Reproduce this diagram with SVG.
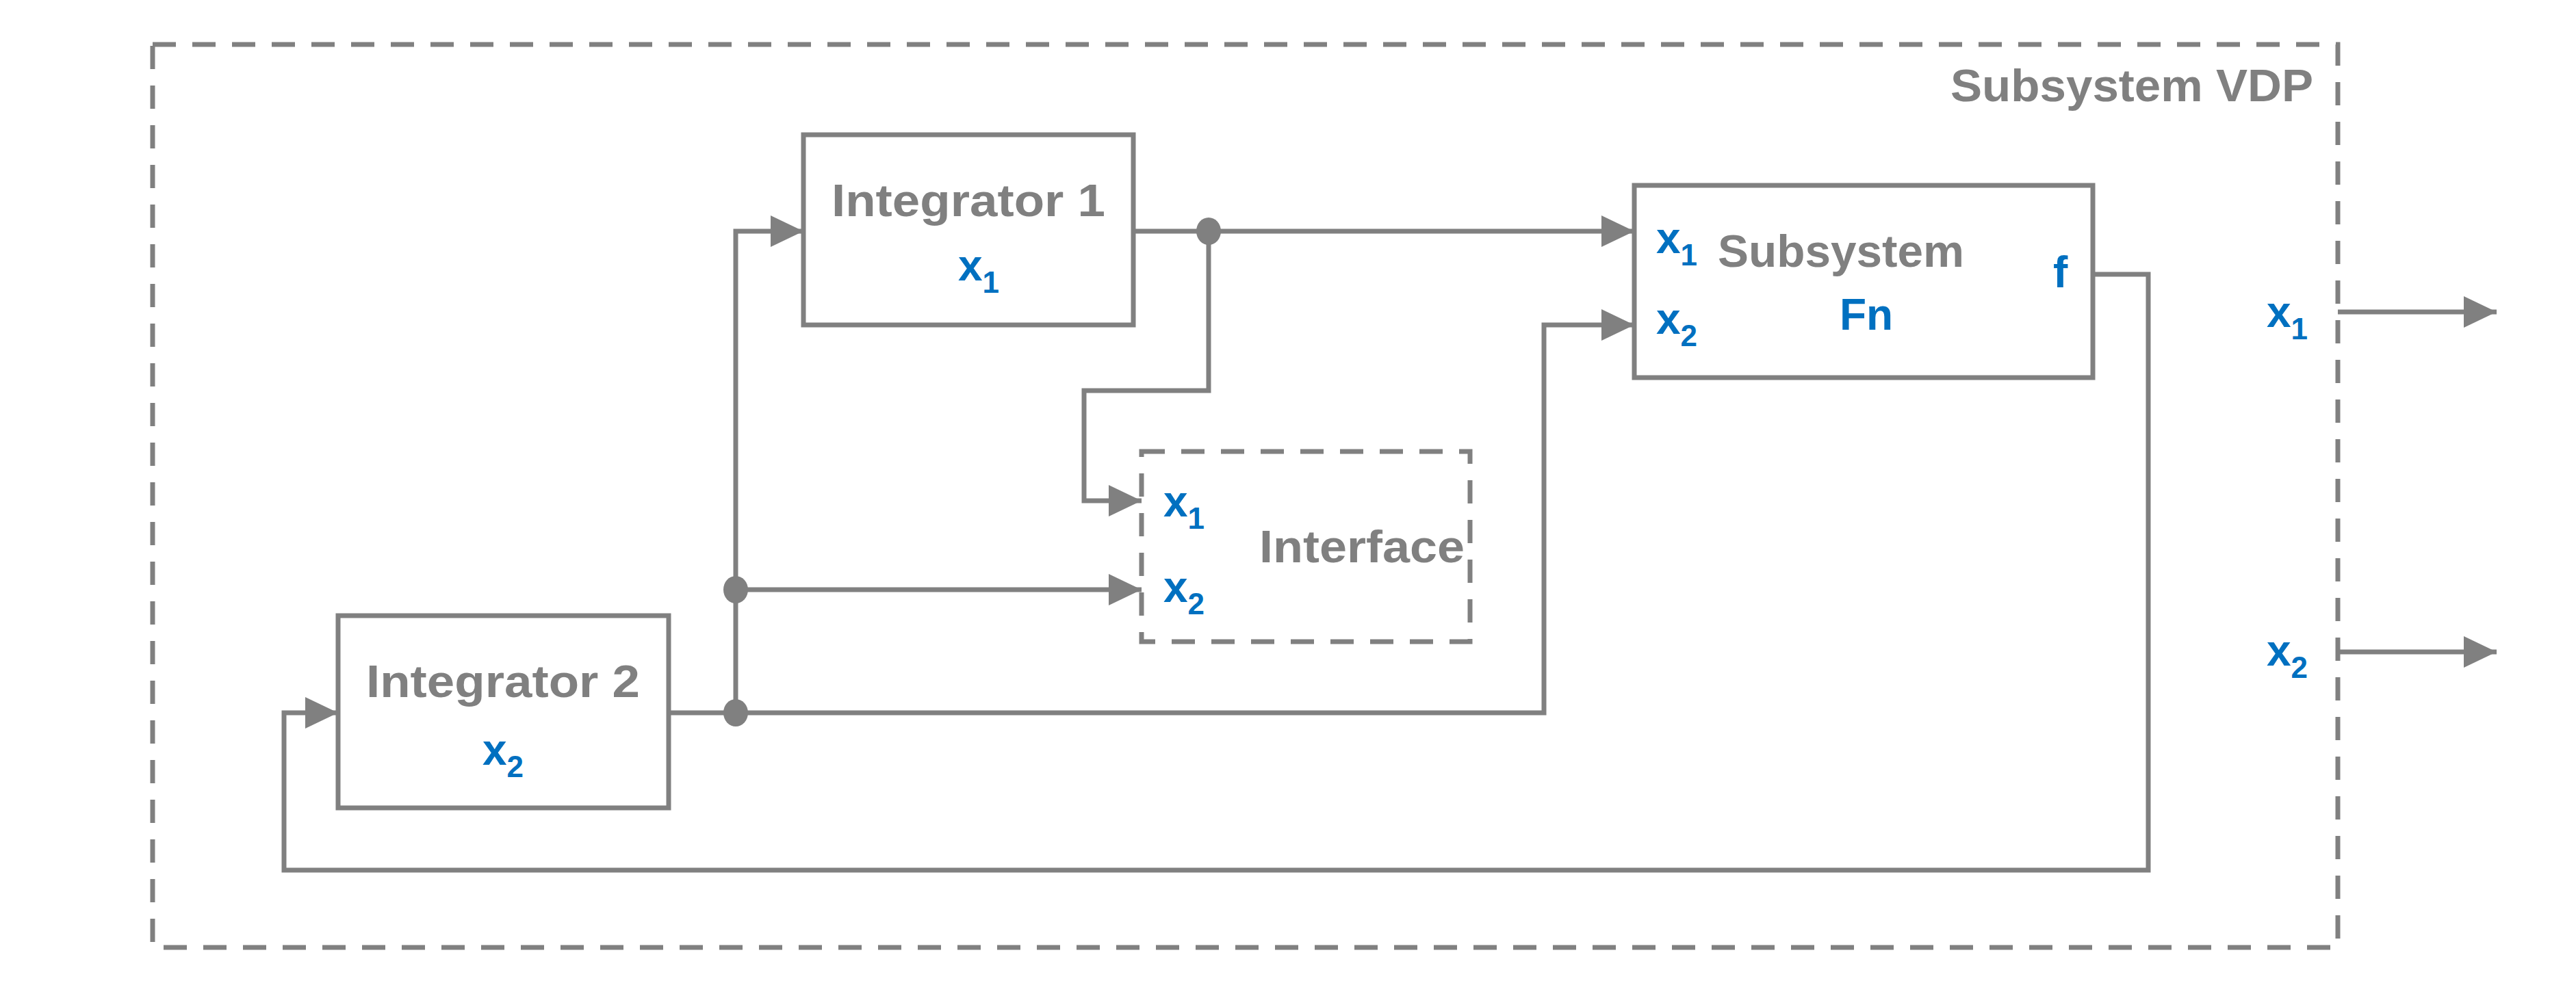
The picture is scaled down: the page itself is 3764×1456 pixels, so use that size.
<svg xmlns="http://www.w3.org/2000/svg" width="3764" height="1456" viewBox="0 0 3764 1456">
<style>
.box{fill:none;stroke:#808080;stroke-width:7}
.dash{fill:none;stroke:#808080;stroke-width:7;stroke-dasharray:34 24}
.ln{fill:none;stroke:#808080;stroke-width:7}
.t{font-family:"Liberation Sans",Arial,sans-serif;font-weight:bold;fill:#808080;font-size:66px}
.v{font-family:"Liberation Sans",Arial,sans-serif;font-weight:bold;fill:#0070C0;font-size:64px}
.s{font-size:44px}
</style>
<defs>
<marker id="ah" markerWidth="48" markerHeight="46" refX="48" refY="23" orient="auto" markerUnits="userSpaceOnUse">
<path d="M0,0 L48,23 L0,46 Z" fill="#808080"/>
</marker>
</defs>
<rect width="3764" height="1456" fill="#fff"/>
<g id="vdp">
<rect class="dash" x="223" y="65" width="3193" height="1320"/>
<text class="t" x="3380" y="148" text-anchor="end" textLength="530" lengthAdjust="spacingAndGlyphs">Subsystem VDP</text>
</g>
<g id="int1">
<rect class="box" x="1174" y="197" width="482" height="278"/>
<text class="t" x="1415" y="316" text-anchor="middle" textLength="400" lengthAdjust="spacingAndGlyphs">Integrator 1</text>
<text class="v" x="1400" y="410">x<tspan class="s" dy="18">1</tspan></text>
</g>
<g id="int2">
<rect class="box" x="494" y="900" width="483" height="281"/>
<text class="t" x="735" y="1019" text-anchor="middle" textLength="400" lengthAdjust="spacingAndGlyphs">Integrator 2</text>
<text class="v" x="705" y="1118">x<tspan class="s" dy="18">2</tspan></text>
</g>
<g id="fn">
<rect class="box" x="2388" y="271" width="670" height="281"/>
<text class="t" x="2690" y="390" text-anchor="middle" textLength="360" lengthAdjust="spacingAndGlyphs">Subsystem</text>
<text class="v" x="2727" y="482" text-anchor="middle">Fn</text>
<text class="v" x="2420" y="370">x<tspan class="s" dy="18">1</tspan></text>
<text class="v" x="2420" y="488">x<tspan class="s" dy="18">2</tspan></text>
<text class="v" x="3000" y="420">f</text>
</g>
<g id="iface">
<rect class="dash" x="1668" y="660" width="480" height="278"/>
<text class="t" x="1990" y="822" text-anchor="middle" textLength="300" lengthAdjust="spacingAndGlyphs">Interface</text>
<text class="v" x="1700" y="755">x<tspan class="s" dy="18">1</tspan></text>
<text class="v" x="1700" y="880">x<tspan class="s" dy="18">2</tspan></text>
</g>
<g id="outs">
<text class="v" x="3312" y="478">x<tspan class="s" dy="18">1</tspan></text>
<text class="v" x="3312" y="973">x<tspan class="s" dy="18">2</tspan></text>
</g>
<g id="connectors">
<polyline class="ln" points="1075,1042 1075,338 1174,338" marker-end="url(#ah)"/>
<polyline class="ln" points="1656,338 2388,338" marker-end="url(#ah)"/>
<polyline class="ln" points="1766,338 1766,571 1584,571 1584,732 1668,732" marker-end="url(#ah)"/>
<polyline class="ln" points="1075,862 1668,862" marker-end="url(#ah)"/>
<polyline class="ln" points="977,1042 2256,1042 2256,475 2388,475" marker-end="url(#ah)"/>
<polyline class="ln" points="3058,401 3139,401 3139,1272 415,1272 415,1042 494,1042" marker-end="url(#ah)"/>
<polyline class="ln" points="3416,456 3648,456" marker-end="url(#ah)"/>
<polyline class="ln" points="3416,953 3648,953" marker-end="url(#ah)"/>
<ellipse cx="1766" cy="338" rx="18" ry="20" fill="#808080"/>
<ellipse cx="1075" cy="862" rx="18" ry="20" fill="#808080"/>
<ellipse cx="1075" cy="1042" rx="18" ry="20" fill="#808080"/>
</g>
</svg>
